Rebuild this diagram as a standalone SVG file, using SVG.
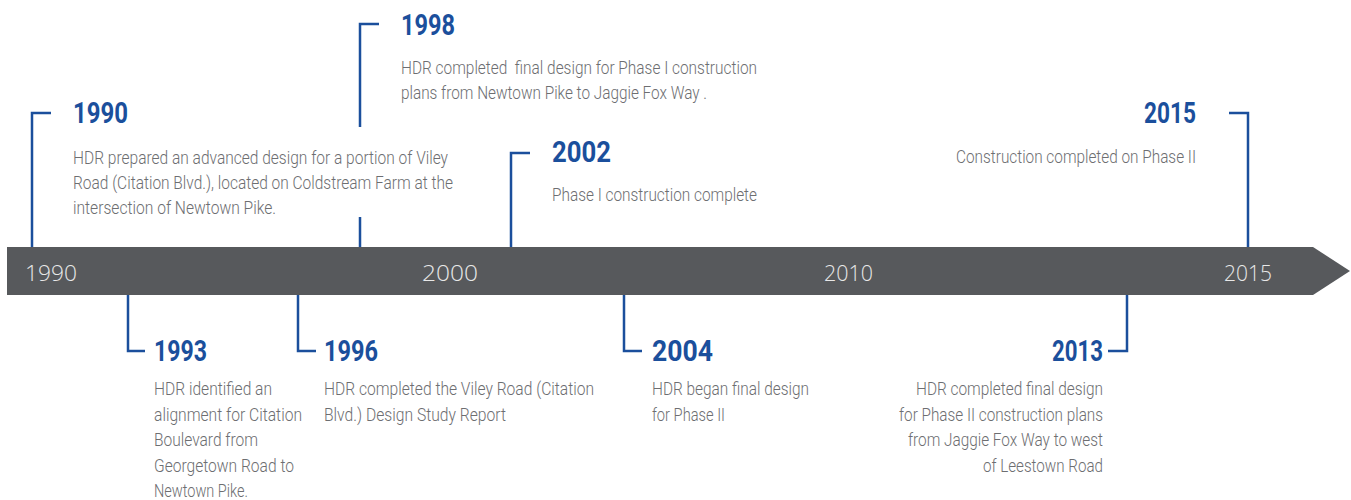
<svg xmlns="http://www.w3.org/2000/svg" width="1351" height="500" viewBox="0 0 1351 500">
<style>
.yr{font-family:"Roboto","Liberation Sans",sans-serif;font-weight:700;font-size:29px;fill:#1b4f9c}
.tx{font-family:"Roboto","Liberation Sans",sans-serif;font-weight:300;font-size:18.5px;fill:#6d6e71;white-space:pre}
.bl{font-family:"Open Sans","Liberation Sans",sans-serif;font-weight:300;font-size:22px;fill:#e8e8e8}
.cn{fill:none;stroke:#1b4f9c;stroke-width:2.5}
</style>
<rect width="1351" height="500" fill="#ffffff"/>
<g id="timeline-bar">
<polygon points="7,247 1313,247 1350,271 1313,295 7,295" fill="#57595c"/>
<text class="bl" x="25" y="281" textLength="52" lengthAdjust="spacingAndGlyphs">1990</text>
<text class="bl" x="422" y="281" textLength="56" lengthAdjust="spacingAndGlyphs">2000</text>
<text class="bl" x="824" y="281" textLength="49" lengthAdjust="spacingAndGlyphs">2010</text>
<text class="bl" x="1224" y="281" textLength="48" lengthAdjust="spacingAndGlyphs">2015</text>
</g>
<g id="connectors">
<path class="cn" d="M51,113 H32 V247"/>
<path class="cn" d="M379,24 H360 V127 M360,217 V247"/>
<path class="cn" d="M530,153 H511 V247"/>
<path class="cn" d="M1229,113 H1248 V247"/>
<path class="cn" d="M128,295 V351 H145"/>
<path class="cn" d="M298,295 V351 H316"/>
<path class="cn" d="M624,295 V351 H642"/>
<path class="cn" d="M1127,295 V351 H1108"/>
</g>
<g id="event-1990">
<text class="yr" x="73" y="123" textLength="55" lengthAdjust="spacingAndGlyphs">1990</text>
<text class="tx" x="73" y="164" textLength="375" lengthAdjust="spacingAndGlyphs">HDR prepared an advanced design for a portion of Viley</text>
<text class="tx" x="73" y="189" textLength="380" lengthAdjust="spacingAndGlyphs">Road (Citation Blvd.), located on Coldstream Farm at the</text>
<text class="tx" x="73" y="214" textLength="203" lengthAdjust="spacingAndGlyphs">intersection of Newtown Pike.</text>
</g>
<g id="event-1998">
<text class="yr" x="401" y="35" textLength="54" lengthAdjust="spacingAndGlyphs">1998</text>
<text class="tx" x="401" y="74" textLength="356" lengthAdjust="spacingAndGlyphs">HDR completed  final design for Phase I construction</text>
<text class="tx" x="401" y="99" textLength="306" lengthAdjust="spacingAndGlyphs">plans from Newtown Pike to Jaggie Fox Way .</text>
</g>
<g id="event-2002">
<text class="yr" x="552" y="162" textLength="59" lengthAdjust="spacingAndGlyphs">2002</text>
<text class="tx" x="552" y="201" textLength="205" lengthAdjust="spacingAndGlyphs">Phase I construction complete</text>
</g>
<g id="event-2015">
<text class="yr" x="1144" y="123" textLength="52" lengthAdjust="spacingAndGlyphs">2015</text>
<text class="tx" x="956" y="163" textLength="240" lengthAdjust="spacingAndGlyphs">Construction completed on Phase II</text>
</g>
<g id="event-1993">
<text class="yr" x="154" y="361" textLength="53" lengthAdjust="spacingAndGlyphs">1993</text>
<text class="tx" x="154" y="395" textLength="118" lengthAdjust="spacingAndGlyphs">HDR identified an</text>
<text class="tx" x="154" y="421" textLength="148" lengthAdjust="spacingAndGlyphs">alignment for Citation</text>
<text class="tx" x="154" y="446" textLength="104" lengthAdjust="spacingAndGlyphs">Boulevard from</text>
<text class="tx" x="154" y="472" textLength="140" lengthAdjust="spacingAndGlyphs">Georgetown Road to</text>
<text class="tx" x="154" y="497" textLength="94" lengthAdjust="spacingAndGlyphs">Newtown Pike.</text>
</g>
<g id="event-1996">
<text class="yr" x="324" y="361" textLength="54" lengthAdjust="spacingAndGlyphs">1996</text>
<text class="tx" x="324" y="395" textLength="270" lengthAdjust="spacingAndGlyphs">HDR completed the Viley Road (Citation</text>
<text class="tx" x="324" y="421" textLength="182" lengthAdjust="spacingAndGlyphs">Blvd.) Design Study Report</text>
</g>
<g id="event-2004">
<text class="yr" x="652" y="361" textLength="61" lengthAdjust="spacingAndGlyphs">2004</text>
<text class="tx" x="652" y="395" textLength="157" lengthAdjust="spacingAndGlyphs">HDR began final design</text>
<text class="tx" x="652" y="421" textLength="73" lengthAdjust="spacingAndGlyphs">for Phase II</text>
</g>
<g id="event-2013">
<text class="yr" x="1052" y="361" textLength="51" lengthAdjust="spacingAndGlyphs">2013</text>
<text class="tx" x="916" y="395" textLength="187" lengthAdjust="spacingAndGlyphs">HDR completed final design</text>
<text class="tx" x="899" y="421" textLength="204" lengthAdjust="spacingAndGlyphs">for Phase II construction plans</text>
<text class="tx" x="908" y="446" textLength="195" lengthAdjust="spacingAndGlyphs">from Jaggie Fox Way to west</text>
<text class="tx" x="983" y="472" textLength="120" lengthAdjust="spacingAndGlyphs">of Leestown Road</text>
</g>
</svg>
